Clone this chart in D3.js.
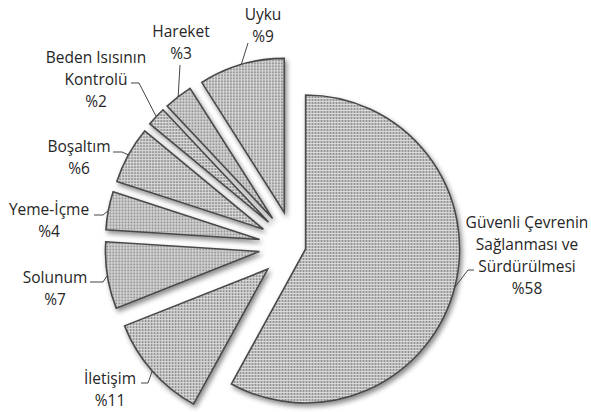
<!DOCTYPE html>
<html>
<head>
<meta charset="utf-8">
<script src="https://cdn.jsdelivr.net/npm/d3@7"></script>
<style>
  html, body { margin: 0; padding: 0; background: #fff; }
  svg { display: block; }
</style>
</head>
<body>
<svg id="chart" width="591" height="412"></svg>
<script>
// Slice data, clockwise from 12 o'clock
const categories = ["Güvenli Çevrenin Sağlanması ve Sürdürülmesi", "İletişim", "Solunum", "Yeme-İçme", "Boşaltım", "Beden Isısının Kontrolü", "Hareket", "Uyku"];
const values = [58, 11, 7, 4, 6, 2, 3, 9];
const labelLines = [
  ["Güvenli Çevrenin", "Sağlanması ve", "Sürdürülmesi", "%58"],
  ["İletişim", "%11"],
  ["Solunum", "%7"],
  ["Yeme-İçme", "%4"],
  ["Boşaltım", "%6"],
  ["Beden Isısının", "Kontrolü", "%2"],
  ["Hareket", "%3"],
  ["Uyku", "%9"]
];

// Layout
const W = 591, H = 412;
const cx = 294, cy = 246, R = 154;
const explodeMain = 12, explodeOther = 35;
const fontSize = 15.5, lineGap = 22;

// Label block placement: centre x, first baseline y, leader start and optional elbow
const labelLayout = [
  { x: 527, y: 228, start: [474, 270], elbow: [468, 270] },
  { x: 110, y: 384, start: [141, 383], elbow: [148, 383] },
  { x: 55,  y: 283, start: [90, 282],  elbow: [103, 282] },
  { x: 49,  y: 215, start: [94, 215],  elbow: [103, 215] },
  { x: 79,  y: 152, start: [113, 152], elbow: [122, 152] },
  { x: 96,  y: 63,  start: [131, 83],  elbow: [139, 83] },
  { x: 181, y: 37,  start: [180, 65],  elbow: null },
  { x: 263, y: 20,  start: [248, 43],  elbow: null }
];

const svg = d3.select("#chart");
const defs = svg.append("defs");

// Fine dotted screen fill
const pat = defs.append("pattern")
  .attr("id", "dots").attr("patternUnits", "userSpaceOnUse")
  .attr("width", 3).attr("height", 3);
pat.append("rect").attr("width", 3).attr("height", 3).attr("fill", "#dadada");
pat.append("rect").attr("x", 0).attr("y", 0).attr("width", 1).attr("height", 2).attr("fill", "#858585");
pat.append("rect").attr("x", 1).attr("y", 0).attr("width", 1).attr("height", 2).attr("fill", "#aaaaaa");

// Soft drop shadow under each slice
const f = defs.append("filter").attr("id", "shadow")
  .attr("x", "-20%").attr("y", "-20%").attr("width", "140%").attr("height", "140%");
f.append("feDropShadow").attr("dx", 2).attr("dy", 3).attr("stdDeviation", 2.5)
  .attr("flood-color", "#000").attr("flood-opacity", 0.45);

const pie = d3.pie().sort(null).value(d => d).startAngle(0).endAngle(2 * Math.PI);
const arcs = pie(values);
const arc = d3.arc().innerRadius(0).outerRadius(R);

function apex(d, i) {
  const mid = (d.startAngle + d.endAngle) / 2;
  const e = i === 0 ? explodeMain : explodeOther;
  return [cx + e * Math.sin(mid), cy - e * Math.cos(mid)];
}

const slices = svg.append("g");
slices.selectAll("path.slice")
  .data(arcs)
  .join("path")
  .attr("class", "slice")
  .attr("transform", (d, i) => { const p = apex(d, i); return `translate(${p[0]},${p[1]})`; })
  .attr("d", arc)
  .attr("fill", "url(#dots)")
  .attr("stroke", "#4a4a4a")
  .attr("stroke-width", 1.6)
  .attr("stroke-linejoin", "miter")
  .attr("filter", "url(#shadow)");

// Leader lines to the middle of each slice's outer arc
const leaders = svg.append("g");
arcs.forEach((d, i) => {
  const p = apex(d, i);
  const mid = (d.startAngle + d.endAngle) / 2;
  const end = [p[0] + R * Math.sin(mid), p[1] - R * Math.cos(mid)];
  const L = labelLayout[i];
  const pts = [L.start];
  if (L.elbow) pts.push(L.elbow);
  pts.push(end);
  leaders.append("path")
    .attr("d", d3.line()(pts))
    .attr("fill", "none")
    .attr("stroke", "#444")
    .attr("stroke-width", 1);
});

// Category labels with percentages
const labels = svg.append("g")
  .attr("font-family", "'Open Sans', 'Liberation Sans', sans-serif")
  .attr("font-size", fontSize)
  .attr("fill", "#262626")
  .attr("text-anchor", "middle");
labelLines.forEach((lines, i) => {
  const L = labelLayout[i];
  const t = labels.append("text").attr("x", L.x).attr("y", L.y);
  lines.forEach((s, k) => {
    t.append("tspan").attr("x", L.x).attr("y", L.y + k * lineGap).text(s);
  });
});
</script>
</body>
</html>
